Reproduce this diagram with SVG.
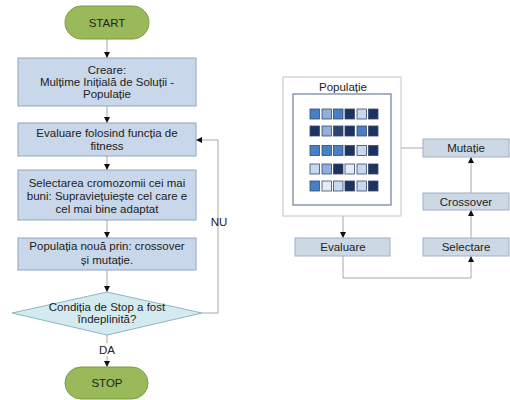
<svg xmlns="http://www.w3.org/2000/svg" width="510" height="400" viewBox="0 0 510 400">
<style>
text{font-family:"Liberation Sans",Arial,sans-serif;font-size:11.5px;fill:#222;text-anchor:middle}
.box{fill:#c8d7e9;stroke:#8ea6c4;stroke-width:1}
.rbox{fill:#cdd8e5;stroke:#9fb0c6;stroke-width:1}
.pill{fill:#99b95a;stroke:#7e9c45;stroke-width:1}
.dia{fill:#d3ebf0;stroke:#8fb6c4;stroke-width:1}
.ln{fill:none;stroke:#a8a8a8;stroke-width:1}
.sq{stroke:#3a4a66;stroke-width:0.8}
.a{fill:#4a7ec6}.b{fill:#8fb0dc}.c{fill:#1c3260}.d{fill:#c8d9ef}.e{fill:#e3ecf7}.f{fill:#2a4677}
</style>
<defs>
<marker id="ar" viewBox="0 0 6 6" refX="6" refY="3" markerWidth="6" markerHeight="6" orient="auto" markerUnits="userSpaceOnUse">
<path d="M0,0 L6,3 L0,6 Z" fill="#111"/>
</marker>
</defs>
<g id="connectors">
<line class="ln" x1="107" y1="39" x2="107" y2="58" marker-end="url(#ar)"/>
<line class="ln" x1="107" y1="106" x2="107" y2="123" marker-end="url(#ar)"/>
<line class="ln" x1="107" y1="156" x2="107" y2="170" marker-end="url(#ar)"/>
<line class="ln" x1="107" y1="220" x2="107" y2="238" marker-end="url(#ar)"/>
<line class="ln" x1="107" y1="270" x2="107" y2="292" marker-end="url(#ar)"/>
<line class="ln" x1="107" y1="335" x2="107" y2="343"/>
<line class="ln" x1="107" y1="356" x2="107" y2="367" marker-end="url(#ar)"/>
<polyline class="ln" points="202,313 218,313 218,140 196,140" marker-end="url(#ar)"/>
<line class="ln" x1="343" y1="216" x2="343" y2="238" marker-end="url(#ar)"/>
<polyline class="ln" points="343,256 343,278 471,278 471,256" marker-end="url(#ar)"/>
<line class="ln" x1="471" y1="238" x2="471" y2="210" marker-end="url(#ar)"/>
<line class="ln" x1="471" y1="193" x2="471" y2="157" marker-end="url(#ar)"/>
<line class="ln" x1="423" y1="148" x2="391" y2="148" marker-end="url(#ar)"/>
</g>
<g id="start"><rect class="pill" x="65" y="6" width="84" height="33" rx="16.5"/><text x="107" y="27">START</text></g>
<g id="creare"><rect class="box" x="18" y="58" width="178" height="48"/>
<text x="107" y="74">Creare:</text><text x="107" y="86">Mulțime Inițială de Soluții -</text><text x="107" y="98">Populație</text></g>
<g id="evaluare1"><rect class="box" x="18" y="123" width="178" height="33"/>
<text x="107" y="137">Evaluare folosind funcția de</text><text x="107" y="150">fitness</text></g>
<g id="selectarea"><rect class="box" x="18" y="170" width="178" height="50"/>
<text x="107" y="187">Selectarea cromozomii cei mai</text><text x="107" y="200">buni: Supraviețuiește cel care e</text><text x="107" y="213">cel mai bine adaptat</text></g>
<g id="populatia-noua"><rect class="box" x="18" y="238" width="178" height="32"/>
<text x="107" y="250">Populația nouă prin: crossover</text><text x="107" y="264">și mutație.</text></g>
<g id="conditie"><polygon class="dia" points="107,292 202,313 107,335 12,313"/>
<text x="107" y="311">Condiția de Stop a fost</text><text x="107" y="323">îndeplinită?</text></g>
<g id="labels"><text x="107" y="354">DA</text><text x="219" y="226">NU</text></g>
<g id="stop"><rect class="pill" x="65" y="367" width="83" height="32" rx="16"/><text x="107" y="387">STOP</text></g>
<g id="populatie">
<rect x="283" y="77" width="118" height="139" fill="#fff" stroke="#c4c4c4"/>
<text x="343" y="91">Populație</text>
<rect x="293" y="94" width="98" height="111" fill="#fff" stroke="#6c7f9d" stroke-width="1.2"/>
<g>
<rect class="sq a" x="310" y="109" width="9.5" height="10"/><rect class="sq b" x="322" y="109" width="9.5" height="10"/><rect class="sq a" x="333.5" y="109" width="9.5" height="10"/><rect class="sq c" x="345" y="109" width="9.5" height="10"/><rect class="sq d" x="357" y="109" width="9.5" height="10"/><rect class="sq c" x="368.5" y="109" width="9.5" height="10"/>
<rect class="sq c" x="310" y="126" width="9.5" height="10"/><rect class="sq b" x="322" y="126" width="9.5" height="10"/><rect class="sq f" x="333.5" y="126" width="9.5" height="10"/><rect class="sq c" x="345" y="126" width="9.5" height="10"/><rect class="sq a" x="357" y="126" width="9.5" height="10"/><rect class="sq c" x="368.5" y="126" width="9.5" height="10"/>
<rect class="sq a" x="310" y="145.5" width="9.5" height="10"/><rect class="sq a" x="322" y="145.5" width="9.5" height="10"/><rect class="sq a" x="333.5" y="145.5" width="9.5" height="10"/><rect class="sq c" x="345" y="145.5" width="9.5" height="10"/><rect class="sq d" x="357" y="145.5" width="9.5" height="10"/><rect class="sq c" x="368.5" y="145.5" width="9.5" height="10"/>
<rect class="sq d" x="310" y="164" width="9.5" height="10"/><rect class="sq b" x="322" y="164" width="9.5" height="10"/><rect class="sq c" x="333.5" y="164" width="9.5" height="10"/><rect class="sq e" x="345" y="164" width="9.5" height="10"/><rect class="sq d" x="357" y="164" width="9.5" height="10"/><rect class="sq c" x="368.5" y="164" width="9.5" height="10"/>
<rect class="sq a" x="310" y="181" width="9.5" height="10"/><rect class="sq e" x="322" y="181" width="9.5" height="10"/><rect class="sq d" x="333.5" y="181" width="9.5" height="10"/><rect class="sq c" x="345" y="181" width="9.5" height="10"/><rect class="sq d" x="357" y="181" width="9.5" height="10"/><rect class="sq c" x="368.5" y="181" width="9.5" height="10"/>
</g>
</g>
<g id="evaluare2"><rect class="rbox" x="295" y="238" width="95" height="18"/><text x="343" y="251">Evaluare</text></g>
<g id="selectare"><rect class="rbox" x="423" y="238" width="86" height="18"/><text x="466" y="251">Selectare</text></g>
<g id="crossover"><rect class="rbox" x="423" y="193" width="86" height="17"/><text x="466" y="206">Crossover</text></g>
<g id="mutatie"><rect class="rbox" x="423" y="139" width="86" height="18"/><text x="466" y="152">Mutație</text></g>
</svg>
